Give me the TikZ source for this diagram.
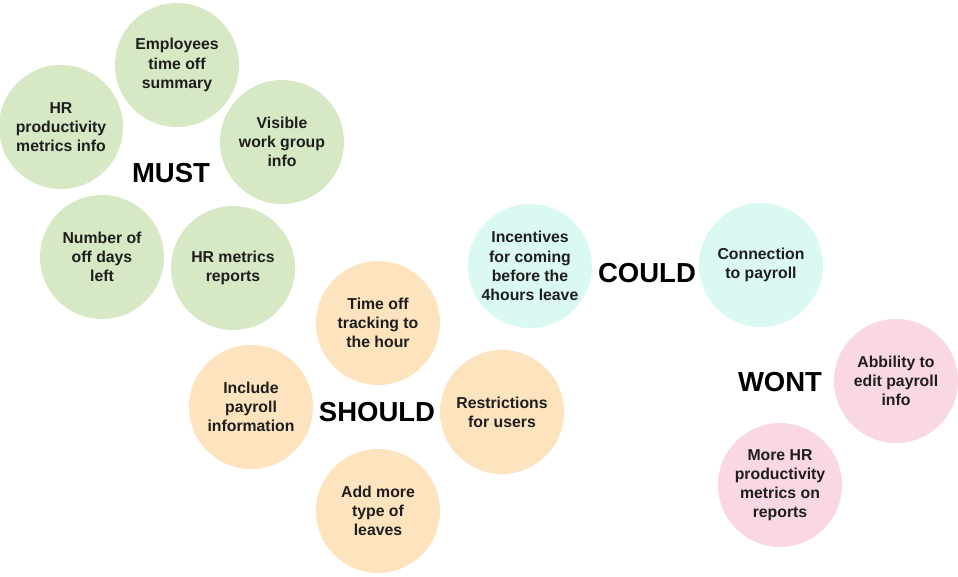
\documentclass[tikz,border=0pt]{standalone}
\usepackage{fontspec}
\setmainfont{Liberation Sans}
\usetikzlibrary{positioning}
\definecolor{mustfill}{RGB}{214,232,196}
\definecolor{shouldfill}{RGB}{253,228,190}
\definecolor{couldfill}{RGB}{218,249,243}
\definecolor{wontfill}{RGB}{249,216,227}
\definecolor{itemtext}{RGB}{30,30,30}
\tikzset{
  item/.style={circle,minimum size=124pt,inner sep=0pt,align=center,
               font=\fontsize{15.8}{19.2}\selectfont\bfseries,text=itemtext},
  must/.style={item,fill=mustfill},
  should/.style={item,fill=shouldfill},
  could/.style={item,fill=couldfill},
  wont/.style={item,fill=wontfill},
  tag/.style={font=\fontsize{27.5}{32}\selectfont\bfseries,text=black},
}

\begin{document}
\begin{tikzpicture}[x=1pt,y=-1pt]
\useasboundingbox (0,0) rectangle (958,576);
% must
\node[must] (mustsummary) at (177,65) {Employees\\time off\\summary};
\node[must] (mustprod) at (61,127) {HR\\productivity\\metrics info};
\node[must] (mustgroup) at (282,142) {Visible\\work group\\info};
\node[must] (mustdays) at (102,257) {Number of\\off days\\left};
\node[must] (mustreports) at (233,268) {HR metrics\\reports};
\node[tag] (musttag) at (171,173) {MUST};
% should
\node[should] (shouldhour) at (378,323) {Time off\\tracking to\\the hour};
\node[should] (shouldpayroll) at (251,407) {Include\\payroll\\information};
\node[should] (shouldusers) at (502,412) {Restrictions\\for users};
\node[should] (shouldleaves) at (378,511) {Add more\\type of\\leaves};
\node[tag] (shouldtag) at (377,412) {SHOULD};
% could
\node[could] (couldincent) at (530,266) {Incentives\\for coming\\before the\\4hours leave};
\node[could] (couldpayroll) at (761,265) {Connection\\to payroll};
\node[tag] (couldtag) at (647,273) {COULD};
% wont
\node[wont] (wontedit) at (896,381) {Abbility to\\edit payroll\\info};
\node[wont] (wontmetrics) at (780,485) {More HR\\productivity\\metrics on\\reports};
\node[tag] (wonttag) at (780,382) {WONT};
\end{tikzpicture}
\end{document}
